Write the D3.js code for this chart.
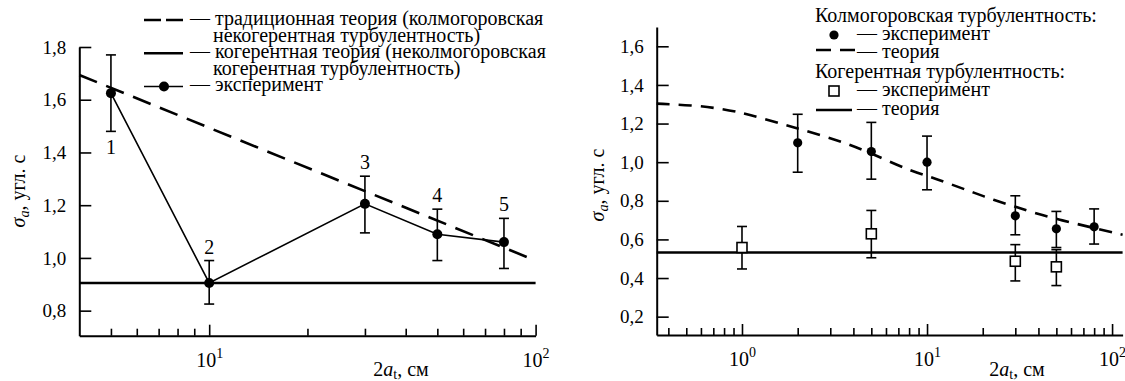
<!DOCTYPE html>
<html>
<head>
<meta charset="utf-8">
<script src="https://cdn.jsdelivr.net/npm/d3@7"></script>
<style>
body { margin: 0; background: #fff; }
svg { display: block; }
text { font-family: "Liberation Serif", "Times New Roman", serif; }
</style>
</head>
<body>
<div id="chart"></div>
<script>
var svgWidth = 1125;
var svgHeight = 381;

// left panel: experiment points 1..5
var leftSizes = [5, 10, 30, 50, 80];
var leftSigma = [1.625, 0.905, 1.205, 1.09, 1.06];
var leftHi = [1.77, 0.99, 1.31, 1.185, 1.15];
var leftLo = [1.48, 0.825, 1.095, 0.99, 0.96];
var leftNames = ["1", "2", "3", "4", "5"];
var leftNameBelow = [true, false, false, false, false];

// left panel: theories
var tradSizes = [4, 100];
var tradSigma = [1.694, 0.99];
var coherentLeft = 0.905;

var leftYTicks = [0.8, 1.0, 1.2, 1.4, 1.6, 1.8];
var leftMinor = [5, 6, 7, 8, 9, 20, 30, 40, 50, 60, 70, 80, 90];
var leftMajor = [10, 100];

// right panel: kolmogorov turbulence
var kolmSizes = [2, 5, 10, 30, 50, 80];
var kolmSigma = [1.10, 1.055, 1.0, 0.722, 0.655, 0.665];
var kolmHi = [1.248, 1.206, 1.135, 0.826, 0.745, 0.758];
var kolmLo = [0.948, 0.912, 0.857, 0.624, 0.558, 0.576];

// right panel: coherent turbulence
var cohSizes = [1, 5, 30, 50];
var cohSigma = [0.558, 0.629, 0.487, 0.458];
var cohHi = [0.667, 0.75, 0.573, 0.547];
var cohLo = [0.447, 0.505, 0.385, 0.361];

// right panel: theory curves
var kolmTheorySizes = [0.346, 0.54, 0.75, 1, 1.3, 1.75, 2.14, 2.88, 3.84, 5.1, 8.1, 10.4, 13.6, 17.8, 22.8, 29.9, 38.4, 52.4, 70, 114];
var kolmTheorySigma = [1.303, 1.295, 1.279, 1.256, 1.226, 1.19, 1.166, 1.13, 1.09, 1.042, 0.955, 0.925, 0.884, 0.843, 0.805, 0.77, 0.735, 0.701, 0.672, 0.624];
var coherentRight = 0.532;

var rightYTicks = [0.2, 0.4, 0.6, 0.8, 1.0, 1.2, 1.4, 1.6];
var rightMinor = [0.4, 0.5, 0.6, 0.7, 0.8, 0.9, 2, 3, 4, 5, 6, 7, 8, 9, 20, 30, 40, 50, 60, 70, 80, 90];
var rightMajor = [1, 10, 100];

var serif = "'Liberation Serif', 'Times New Roman', serif";

var svg = d3.select("#chart")
  .append("svg")
  .attr("width", svgWidth)
  .attr("height", svgHeight)
  .attr("font-family", serif);

var leftX = d3.scaleLog().domain([4, 100]).range([79.3, 535.6]);
var leftY = d3.scaleLinear().domain([0.705, 1.8]).range([335.7, 47]);
var rightX = d3.scaleLog().domain([0.346, 114]).range([656.7, 1122.6]);
var rightY = d3.scaleLinear().domain([0.105, 1.70]).range([335, 27]);

var commaFmt = d => d3.format(".1f")(d).replace(".", ",");

function yAxis(x0, y, ticks) {
  var g = svg.append("g")
    .attr("transform", `translate(${x0},0)`)
    .call(d3.axisLeft(y).tickValues(ticks).tickSize(-12).tickSizeOuter(0).tickPadding(13).tickFormat(commaFmt));
  g.attr("font-size", 19).attr("font-family", serif);
  g.select(".domain").attr("stroke-width", 2);
  g.selectAll(".tick line").attr("stroke-width", 1.6);
  g.selectAll(".tick text").attr("fill", "#000");
  return g;
}

function xAxis(y0, x, minor, major) {
  var g = svg.append("g")
    .attr("transform", `translate(0,${y0})`)
    .call(d3.axisBottom(x).tickValues(minor.concat(major)).tickSize(-7).tickSizeOuter(0).tickFormat(""));
  g.attr("font-size", 20).attr("font-family", serif);
  g.select(".domain").attr("stroke-width", 2);
  g.selectAll(".tick line").attr("stroke-width", 1.6);
  g.selectAll(".tick")
    .filter(d => major.indexOf(d) >= 0)
    .each(function(d) {
      var t = d3.select(this);
      t.select("line").attr("y2", -11);
      var txt = t.select("text").attr("y", 31).attr("dy", null).attr("fill", "#000").text("10");
      txt.append("tspan").attr("dy", -9).attr("font-size", 14).text(Math.round(Math.log10(d)));
    });
  return g;
}

function yLabel(x0, y0) {
  var t = svg.append("text")
    .attr("transform", `translate(${x0},${y0}) rotate(-90)`)
    .attr("text-anchor", "middle")
    .attr("font-size", 20);
  t.append("tspan").attr("font-style", "italic").text("σ");
  t.append("tspan").attr("font-style", "italic").attr("font-size", 14).attr("dy", 4).text("a");
  t.append("tspan").attr("dy", -4).text(", угл. с");
}

function xLabel(x0, y0) {
  var t = svg.append("text")
    .attr("x", x0)
    .attr("y", y0)
    .attr("text-anchor", "middle")
    .attr("font-size", 20);
  t.append("tspan").text("2");
  t.append("tspan").attr("font-style", "italic").text("a");
  t.append("tspan").attr("font-size", 14).attr("dy", 3).text("t");
  t.append("tspan").attr("dy", -3).text(", см");
}

function errorBars(x, y, sizes, hi, lo) {
  var g = svg.append("g").attr("stroke", "#000").attr("stroke-width", 1.6);
  sizes.forEach(function(s, i) {
    g.append("line").attr("x1", x(s)).attr("x2", x(s)).attr("y1", y(hi[i])).attr("y2", y(lo[i]));
    g.append("line").attr("x1", x(s) - 5).attr("x2", x(s) + 5).attr("y1", y(hi[i])).attr("y2", y(hi[i]));
    g.append("line").attr("x1", x(s) - 5).attr("x2", x(s) + 5).attr("y1", y(lo[i])).attr("y2", y(lo[i]));
  });
}

// ---------- left panel ----------
yAxis(leftX.range()[0], leftY, leftYTicks);
xAxis(leftY.range()[0], leftX, leftMinor, leftMajor);

svg.append("line")
  .attr("x1", leftX(4)).attr("x2", leftX(100))
  .attr("y1", leftY(coherentLeft)).attr("y2", leftY(coherentLeft))
  .attr("stroke", "#000").attr("stroke-width", 2.6);

svg.append("path")
  .attr("d", d3.line().x(d => leftX(d)).y((d, i) => leftY(tradSigma[i]))(tradSizes))
  .attr("fill", "none").attr("stroke", "#000").attr("stroke-width", 2.6)
  .attr("stroke-dasharray", "19,10");

svg.append("path")
  .attr("d", d3.line().x(d => leftX(d)).y((d, i) => leftY(leftSigma[i]))(leftSizes))
  .attr("fill", "none").attr("stroke", "#000").attr("stroke-width", 1.6);

errorBars(leftX, leftY, leftSizes, leftHi, leftLo);

svg.selectAll(".leftDot")
  .data(leftSizes)
  .enter()
  .append("circle")
  .attr("cx", d => leftX(d))
  .attr("cy", (d, i) => leftY(leftSigma[i]))
  .attr("r", 5)
  .attr("fill", "#000");

svg.selectAll(".leftName")
  .data(leftSizes)
  .enter()
  .append("text")
  .attr("x", d => leftX(d))
  .attr("y", (d, i) => leftNameBelow[i] ? leftY(leftLo[i]) + 23 : leftY(leftHi[i]) - 7)
  .attr("text-anchor", "middle")
  .attr("font-size", 20)
  .text((d, i) => leftNames[i]);

yLabel(25, 191);
xLabel(401, 376);

// left legend
var legL = svg.append("g").attr("font-size", 20);
legL.append("line").attr("x1", 144).attr("x2", 183).attr("y1", 20).attr("y2", 20)
  .attr("stroke", "#000").attr("stroke-width", 2.6).attr("stroke-dasharray", "17,5");
legL.append("text").attr("x", 190).attr("y", 25).text("— традиционная теория (колмогоровская");
legL.append("text").attr("x", 213).attr("y", 41.5).text("некогерентная турбулентность)");
legL.append("line").attr("x1", 144).attr("x2", 183).attr("y1", 53.3).attr("y2", 53.3)
  .attr("stroke", "#000").attr("stroke-width", 2.6);
legL.append("text").attr("x", 190).attr("y", 58).text("— когерентная теория (неколмогоровская");
legL.append("text").attr("x", 213).attr("y", 74.5).text("когерентная турбулентность)");
legL.append("line").attr("x1", 144).attr("x2", 183).attr("y1", 86.5).attr("y2", 86.5)
  .attr("stroke", "#000").attr("stroke-width", 1.6);
legL.append("circle").attr("cx", 164).attr("cy", 86.5).attr("r", 5).attr("fill", "#000");
legL.append("text").attr("x", 190).attr("y", 91).text("— эксперимент");

// ---------- right panel ----------
yAxis(rightX.range()[0], rightY, rightYTicks);
xAxis(rightY.range()[0], rightX, rightMinor, rightMajor);

svg.append("line")
  .attr("x1", rightX.range()[0]).attr("x2", rightX.range()[1])
  .attr("y1", rightY(coherentRight)).attr("y2", rightY(coherentRight))
  .attr("stroke", "#000").attr("stroke-width", 2.6);

svg.append("path")
  .attr("d", d3.line().curve(d3.curveBasis).x(d => rightX(d)).y((d, i) => rightY(kolmTheorySigma[i]))(kolmTheorySizes))
  .attr("fill", "none").attr("stroke", "#000").attr("stroke-width", 2.6)
  .attr("stroke-dasharray", "13,9");

errorBars(rightX, rightY, kolmSizes, kolmHi, kolmLo);
errorBars(rightX, rightY, cohSizes, cohHi, cohLo);

svg.selectAll(".kolmDot")
  .data(kolmSizes)
  .enter()
  .append("circle")
  .attr("cx", d => rightX(d))
  .attr("cy", (d, i) => rightY(kolmSigma[i]))
  .attr("r", 4.6)
  .attr("fill", "#000");

svg.selectAll(".cohBox")
  .data(cohSizes)
  .enter()
  .append("rect")
  .attr("x", d => rightX(d) - 5)
  .attr("y", (d, i) => rightY(cohSigma[i]) - 5)
  .attr("width", 10)
  .attr("height", 10)
  .attr("fill", "#fff")
  .attr("stroke", "#000")
  .attr("stroke-width", 1.6);

yLabel(604, 185);
xLabel(1017, 376);

// right legend
var legR = svg.append("g").attr("font-size", 20);
legR.append("text").attr("x", 815).attr("y", 22).text("Колмогоровская турбулентность:");
legR.append("circle").attr("cx", 834).attr("cy", 35).attr("r", 4.6).attr("fill", "#000");
legR.append("text").attr("x", 857).attr("y", 40).text("— эксперимент");
legR.append("line").attr("x1", 816).attr("x2", 856).attr("y1", 50).attr("y2", 50)
  .attr("stroke", "#000").attr("stroke-width", 2.6).attr("stroke-dasharray", "15,9");
legR.append("text").attr("x", 857).attr("y", 58).text("— теория");
legR.append("text").attr("x", 815).attr("y", 77.5).text("Когерентная турбулентность:");
legR.append("rect").attr("x", 829).attr("y", 86).attr("width", 10).attr("height", 10)
  .attr("fill", "#fff").attr("stroke", "#000").attr("stroke-width", 1.6);
legR.append("text").attr("x", 857).attr("y", 95.5).text("— эксперимент");
legR.append("line").attr("x1", 816).attr("x2", 852).attr("y1", 110).attr("y2", 110)
  .attr("stroke", "#000").attr("stroke-width", 2.6);
legR.append("text").attr("x", 857).attr("y", 114.5).text("— теория");
</script>
</body>
</html>
